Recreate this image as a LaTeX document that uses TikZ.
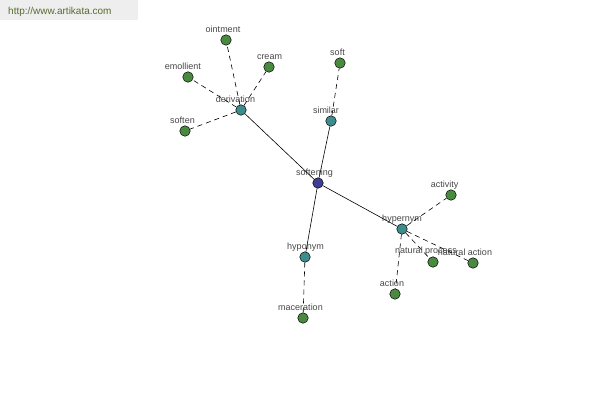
\documentclass[tikz,border=0pt]{standalone}
\usepackage{fontspec}
\setmainfont{Liberation Sans}
\usepackage{xcolor}
\usepackage{tikz}
\usetikzlibrary{positioning}

\definecolor{rootfill}{RGB}{62,62,150}
\definecolor{midfill}{RGB}{62,140,140}
\definecolor{leaffill}{RGB}{74,138,64}
\definecolor{lbltext}{RGB}{70,70,70}
\definecolor{urltext}{RGB}{85,107,47}
\definecolor{urlback}{RGB}{238,238,238}

\tikzset{
	wnode/.style={circle, draw=black, line width=0.5pt, minimum size=10.5pt, inner sep=0pt},
	root/.style={wnode, fill=rootfill},
	mid/.style={wnode, fill=midfill},
	leaf/.style={wnode, fill=leaffill},
	lbl/.style={anchor=base, inner sep=0pt, text=lbltext, font=\fontsize{9}{10}\selectfont},
	rel/.style={line width=0.6pt},
	sub/.style={line width=0.6pt, dash pattern=on 5pt off 4pt}
}

\begin{document}
\begin{tikzpicture}[x=1pt, y=-1pt]
		\useasboundingbox (0, 0) rectangle (600, 400);
		% Header:
		\fill[urlback] (0, 0) rectangle (138, 20);
		\node[anchor=base west, inner sep=0pt, text=urltext, font=\fontsize{10}{12}\selectfont](U) at (8, 14.5){http://www.artikata.com};
		% Nodes and labels:
		\node[root](N1) at (318, 183){} node[lbl](L1) at (314.5, 175.5){softening};
		\node[mid](N2) at (241, 110){} node[lbl](L2) at (235.5, 102.5){derivation};
		\node[mid](N3) at (331, 121){} node[lbl](L3) at (326, 113.5){similar};
		\node[mid](N4) at (305, 257){} node[lbl](L4) at (305.5, 249.5){hyponym};
		\node[mid](N5) at (402, 229){} node[lbl](L5) at (402, 221.5){hypernym};
		\node[leaf](N6) at (226, 40){} node[lbl](L6) at (223, 32.5){ointment};
		\node[leaf](N7) at (269, 67){} node[lbl](L7) at (269.5, 59.5){cream};
		\node[leaf](N8) at (188, 77){} node[lbl](L8) at (183, 69.5){emollient};
		\node[leaf](N9) at (185, 131){} node[lbl](L9) at (182.5, 123.5){soften};
		\node[leaf](N10) at (340, 63){} node[lbl](L10) at (337.5, 55.5){soft};
		\node[leaf](N11) at (303, 318){} node[lbl](L11) at (300.5, 310.5){maceration};
		\node[leaf](N12) at (451, 195){} node[lbl](L12) at (444.5, 187.5){activity};
		\node[leaf](N13) at (433, 262){} node[lbl](L13) at (426, 253.5){natural process};
		\node[leaf](N14) at (473, 263){} node[lbl](L14) at (465, 255.5){natural action};
		\node[leaf](N15) at (395, 294){} node[lbl](L15) at (392, 286.5){action};
		% Links:
		\draw[rel] (N1) -- (N2);
		\draw[rel] (N1) -- (N3);
		\draw[rel] (N1) -- (N4);
		\draw[rel] (N1) -- (N5);
		\draw[sub] (N2) -- (N6);
		\draw[sub] (N2) -- (N7);
		\draw[sub] (N2) -- (N8);
		\draw[sub] (N2) -- (N9);
		\draw[sub] (N3) -- (N10);
		\draw[sub] (N4) -- (N11);
		\draw[sub] (N5) -- (N12);
		\draw[sub] (N5) -- (N13);
		\draw[sub] (N5) -- (N14);
		\draw[sub] (N5) -- (N15);
	\end{tikzpicture}
\end{document}
